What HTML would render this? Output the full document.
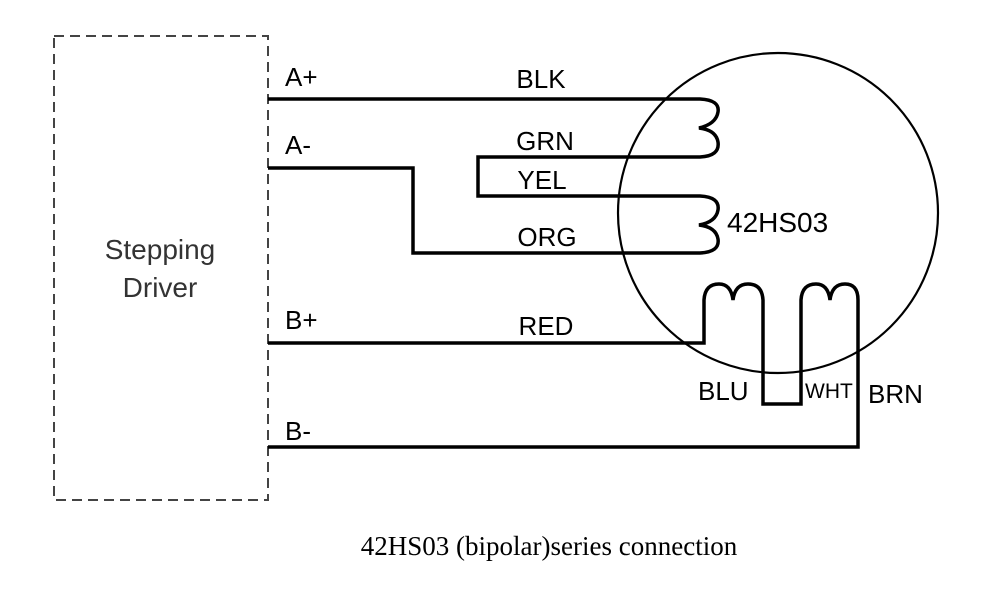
<!DOCTYPE html>
<html><head><style>
body{margin:0;background:#fff;}
svg{display:block;}
</style></head><body>
<svg width="1000" height="604" viewBox="0 0 1000 604" xmlns="http://www.w3.org/2000/svg">
<rect x="54" y="36" width="214" height="464" fill="none" stroke="#444" stroke-width="2" stroke-dasharray="10,6"/>
<text x="160" y="259" font-family="Liberation Sans, sans-serif" font-size="28" fill="#333" text-anchor="middle">Stepping</text>
<text x="160" y="297" font-family="Liberation Sans, sans-serif" font-size="28" fill="#333" text-anchor="middle">Driver</text>
<circle cx="778" cy="213" r="160" fill="none" stroke="#000" stroke-width="2.2"/>
<g fill="none" stroke="#000" stroke-width="3.5">
<path d="M268,99 H700 Q720,100 718,112 Q716,124 699,128 Q716,130 718,142 Q720,156 700,157 H478 V196 H700 Q720,197 718,210 Q716,222 699,225 Q716,227 718,239 Q720,252 700,253 H413 V168 H268"/>
<path d="M268,343 H704 V300 Q705,284 719,284 Q731,284 733,300 Q735,284 748,284 Q762,284 763,300 V404 H801 V300 Q802,284 816,284 Q828,284 830,300 Q832,284 845,284 Q858,284 858,300 V447 H268"/>
</g>
<g font-family="Liberation Sans, sans-serif" font-size="26" fill="#000">
<text x="285" y="86">A+</text>
<text x="285" y="154">A-</text>
<text x="285" y="329">B+</text>
<text x="285" y="440">B-</text>
<text x="541" y="88" text-anchor="middle">BLK</text>
<text x="545" y="150" text-anchor="middle">GRN</text>
<text x="542" y="189" text-anchor="middle">YEL</text>
<text x="547" y="246" text-anchor="middle">ORG</text>
<text x="546" y="335" text-anchor="middle">RED</text>
<text x="727" y="232" font-size="28">42HS03</text>
<text x="698" y="400">BLU</text>
<text x="868" y="403">BRN</text>
<text x="805" y="398" font-size="21">WHT</text>
</g>
<text x="549" y="555" font-family="Liberation Serif, serif" font-size="27" fill="#000" text-anchor="middle">42HS03 (bipolar)series connection</text>
</svg>
</body></html>
